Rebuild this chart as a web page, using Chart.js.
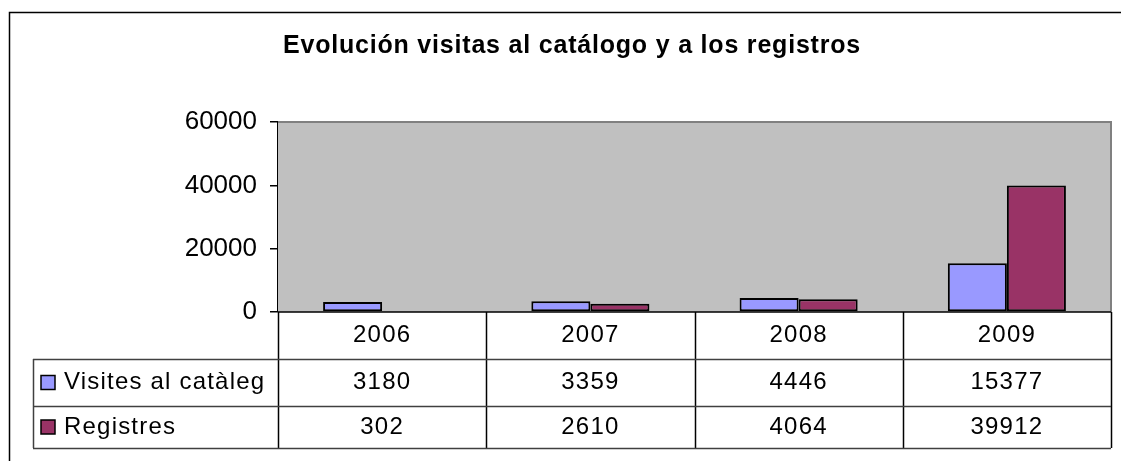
<!DOCTYPE html>
<html>
<head>
<meta charset="utf-8">
<script src="https://cdn.jsdelivr.net/npm/chart.js@4"></script>
<style>
  html, body { margin: 0; padding: 0; background: #fff; }
</style>
</head>
<body>
<canvas id="chart" width="1121" height="461"></canvas>
<script>
// data
const years = ['2006', '2007', '2008', '2009'];
const visites = [3180, 3359, 4446, 15377];
const registres = [302, 2610, 4064, 39912];
const seriesNames = ['Visites al catàleg', 'Registres'];
const seriesColors = ['#9999FF', '#993366'];
const chartTitle = 'Evolución visitas al catálogo y a los registros';
const yMax = 60000;
const yStep = 20000;

const FONT = '"Liberation Sans", Arial, sans-serif';

// gray plot background + frame, title, data table under the plot
const excelLook = {
    id: 'excelLook',
    beforeDatasetsDraw(chart) {
        const { ctx, chartArea: a } = chart;
        ctx.save();
        ctx.fillStyle = '#C0C0C0';
        ctx.fillRect(a.left, a.top, a.right - a.left, a.bottom - a.top);
        ctx.strokeStyle = '#808080';
        ctx.lineWidth = 2;
        ctx.beginPath();
        ctx.moveTo(a.left, a.top);
        ctx.lineTo(a.right, a.top);
        ctx.lineTo(a.right, a.bottom);
        ctx.stroke();
        ctx.restore();
    },
    afterDraw(chart) {
        const { ctx, chartArea: a } = chart;
        const xs = chart.scales.x;
        const colW = (a.right - a.left) / years.length;
        const rows = [a.bottom, 359, 406, 448];
        const tableLeft = 33;

        ctx.save();
        // outer frame
        ctx.strokeStyle = '#000';
        ctx.lineWidth = 1.5;
        ctx.beginPath();
        ctx.moveTo(9.5, 461);
        ctx.lineTo(9.5, 12.5);
        ctx.lineTo(1121, 12.5);
        ctx.stroke();

        // title
        ctx.fillStyle = '#000';
        ctx.font = 'bold 25px ' + FONT;
        ctx.letterSpacing = '0.8px';
        ctx.textAlign = 'center';
        ctx.textBaseline = 'middle';
        ctx.fillText(chartTitle, 572, 46);

        // table lines
        ctx.letterSpacing = '0px';
        ctx.lineWidth = 1.5;
        ctx.strokeStyle = '#000';
        ctx.beginPath();
        ctx.moveTo(a.left, a.bottom);
        ctx.lineTo(a.right, a.bottom);
        for (let i = 0; i <= years.length; i++) {
            const x = Math.round(a.left + i * colW) + 0.5;
            ctx.moveTo(x, a.bottom);
            ctx.lineTo(x, rows[3]);
        }
        ctx.stroke();

        ctx.strokeStyle = '#404040';
        ctx.beginPath();
        for (let r = 1; r < rows.length; r++) {
            ctx.moveTo(tableLeft, rows[r] + 0.5);
            ctx.lineTo(a.right, rows[r] + 0.5);
        }
        ctx.moveTo(tableLeft + 0.5, rows[1]);
        ctx.lineTo(tableLeft + 0.5, rows[3]);
        ctx.stroke();

        // header row: years
        ctx.font = '24px ' + FONT;
        ctx.letterSpacing = '1.2px';
        ctx.fillStyle = '#000';
        years.forEach((y, i) => {
            ctx.fillText(y, xs.getPixelForValue(i), (rows[0] + rows[1]) / 2);
        });

        // series rows
        const series = [visites, registres];
        series.forEach((vals, s) => {
            const cy = (rows[s + 1] + rows[s + 2]) / 2;
            ctx.fillStyle = seriesColors[s];
            ctx.fillRect(41, cy - 7, 14, 14);
            ctx.strokeStyle = '#000';
            ctx.lineWidth = 1.5;
            ctx.strokeRect(41, cy - 7, 14, 14);
            ctx.fillStyle = '#000';
            ctx.textAlign = 'left';
            ctx.fillText(seriesNames[s], 64, cy);
            ctx.textAlign = 'center';
            vals.forEach((v, i) => {
                ctx.fillText(String(v), xs.getPixelForValue(i), cy);
            });
        });
        ctx.restore();
    }
};

new Chart(document.getElementById('chart'), {
    type: 'bar',
    data: {
        labels: years,
        datasets: [{
            label: seriesNames[0],
            data: visites,
            backgroundColor: seriesColors[0],
            borderColor: '#000',
            borderWidth: 2,
            borderSkipped: false,
            categoryPercentage: 0.567,
            barPercentage: 1
        }, {
            label: seriesNames[1],
            data: registres,
            backgroundColor: seriesColors[1],
            borderColor: '#000',
            borderWidth: 2,
            borderSkipped: false,
            categoryPercentage: 0.567,
            barPercentage: 1
        }]
    },
    options: {
        responsive: false,
        animation: false,
        layout: {
            padding: { left: 0, top: 122, right: 10, bottom: 149 }
        },
        plugins: {
            legend: { display: false },
            title: { display: false },
            tooltip: { enabled: false }
        },
        scales: {
            x: { display: false },
            y: {
                min: 0,
                max: yMax,
                afterFit(scale) { scale.width = 278; },
                ticks: {
                    stepSize: yStep,
                    color: '#000',
                    padding: 13,
                    font: { family: FONT, size: 26 },
                    callback: (v) => String(v)
                },
                grid: {
                    drawOnChartArea: false,
                    drawTicks: true,
                    tickLength: 8,
                    color: '#000',
                    lineWidth: 1.5
                },
                border: { color: '#000', width: 1.5 }
            }
        }
    },
    plugins: [excelLook]
});
</script>
</body>
</html>
